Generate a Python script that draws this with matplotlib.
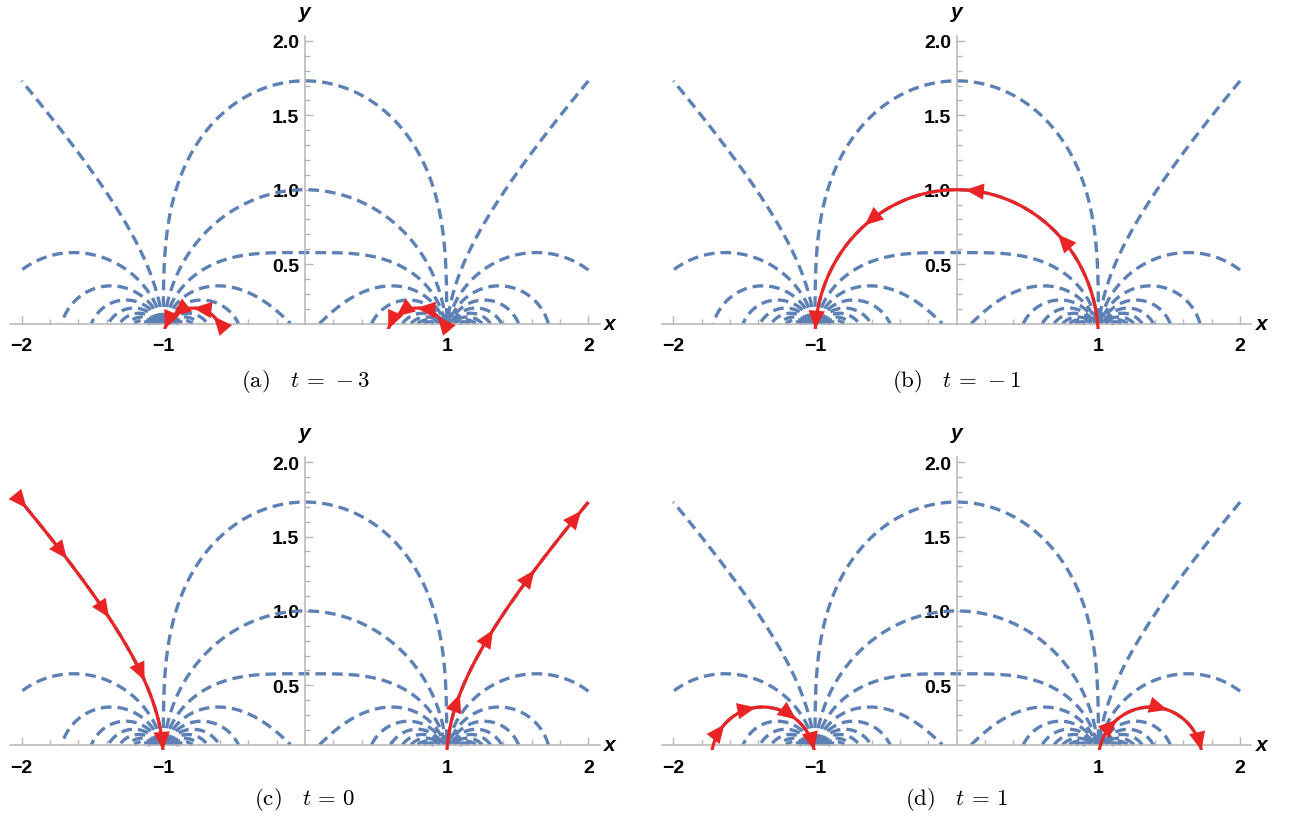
import numpy as np
import matplotlib.pyplot as plt

plt.rcParams['mathtext.fontset'] = 'cm'

W, H = 1289, 820

# contour levels of the dashed family  F(x, y) = Re(2 / (z^2 - 1)),  z = x + iy
levels = [-5.5, -5.0, -4.5, -4.0, -3.5, -3.0, -2.5, -2.0, -1.5, -1.0, -0.5,
          0.0, 0.5, 1.0, 1.5, 2.0, 2.5, 3.0, 3.5, 4.0, 4.5]

# the highlighted (red) level in each panel
t_values = [-3, -1, 0, 1]
panel_tags = ['(a)', '(b)', '(c)', '(d)']

# arrowheads on every visible red piece, as fraction of its length
arrow_frac = {
    -3: [[0.2, 0.5, 0.8, 1.0], [0.2, 0.5, 0.8, 1.0]],
    -1: [[0.24, 0.48, 0.73, 1.0]],
    0: [[0.2, 0.45, 0.7, 0.96], [0.0, 0.25, 0.5, 0.75, 1.0]],
    1: [[0.25, 0.62, 1.0], [0.2, 0.45, 0.75, 1.0]],
}

BLUE = '#5E81B5'
RED = '#EA2424'
AXIS_GREY = '#b5b5b5'

# pixel position of data (0, 0) for each panel, and pixels per unit
origins = [(305, 339.4), (956.7, 339.4), (305, 760.6), (956.7, 760.6)]
SX, SY = 141.7, 148.7
XLIM = (-2.08, 2.08)
YLIM = (0.062, 2.036)
Y_AXIS = 0.1

gx = np.linspace(-2, 2, 1201)
gy = np.linspace(0.1, 2.0, 571)
GX, GY = np.meshgrid(gx, gy)
GZ = GX + 1j * GY
F = np.real(2.0 / (GZ ** 2 - 1.0))


def red_pieces(t):
    s = np.sinh(np.linspace(-10, 10, 60000))
    z = np.sqrt(1 + 2.0 / (t + 1j * s))
    z = np.where(z.imag < 0, -z, z)
    x, y = z.real, z.imag
    keep = (y >= YLIM[0]) & (np.abs(x) <= 2.0)
    pieces = []
    idx = np.flatnonzero(keep)
    if len(idx) == 0:
        return pieces
    breaks = np.flatnonzero(np.diff(idx) > 1)
    starts = np.r_[0, breaks + 1]
    ends = np.r_[breaks, len(idx) - 1]
    for a, b in zip(starts, ends):
        sel = idx[a:b + 1]
        if len(sel) > 5:
            pieces.append((x[sel], y[sel]))
    return pieces


def add_arrow(ax, px, py, frac):
    d = np.hypot(np.diff(px) * SX, np.diff(py) * SY)
    cum = np.r_[0, np.cumsum(d)]
    L = cum[-1]
    target = max(frac * L, 8)
    i = int(np.searchsorted(cum, target))
    i = min(max(i, 1), len(px) - 1)
    j = int(np.searchsorted(cum, target - 6))
    j = min(j, i - 1)
    ax.annotate('', xy=(px[i], py[i]), xytext=(px[j], py[j]),
                arrowprops=dict(arrowstyle='-|>,head_length=0.95,head_width=0.42',
                                color=RED, lw=0, shrinkA=0, shrinkB=0,
                                mutation_scale=14),
                zorder=5, annotation_clip=False)


fig = plt.figure(figsize=(W / 100, H / 100), dpi=100)

for k, t in enumerate(t_values):
    x0, y0 = origins[k]
    left = x0 + XLIM[0] * SX
    right = x0 + XLIM[1] * SX
    top = y0 - YLIM[1] * SY
    bottom = y0 - YLIM[0] * SY
    ax = fig.add_axes([left / W, 1 - bottom / H, (right - left) / W, (bottom - top) / H])
    ax.set_xlim(*XLIM)
    ax.set_ylim(*YLIM)
    ax.set_axisbelow(True)

    # dashed family
    cs = ax.contour(GX, GY, F, levels=levels, colors=BLUE, linewidths=0)
    for segs in cs.allsegs:
        for seg in segs:
            ax.plot(seg[:, 0], seg[:, 1], color=BLUE, lw=2.4,
                    dashes=(3.2, 1.8), solid_capstyle='butt', zorder=2)
    cs.remove()

    # highlighted curve with arrows
    pieces = red_pieces(t)
    fr = arrow_frac[t]
    for n, (px, py) in enumerate(pieces):
        ax.plot(px, py, color=RED, lw=2.3, zorder=4, solid_capstyle='butt')
        for f in fr[min(n, len(fr) - 1)]:
            add_arrow(ax, px, py, f)

    # Mathematica-like axes
    for side in ['top', 'right']:
        ax.spines[side].set_visible(False)
    ax.spines['left'].set_position(('data', 0))
    ax.spines['bottom'].set_position(('data', Y_AXIS))
    ax.spines['left'].set_bounds(Y_AXIS, YLIM[1])
    for side in ['left', 'bottom']:
        ax.spines[side].set_color(AXIS_GREY)
        ax.spines[side].set_linewidth(1.1)

    ax.set_xticks([-2, -1, 1, 2])
    ax.set_xticklabels(['\u22122', '\u22121', '1', '2'])
    ax.set_xticks([v / 5 for v in range(-9, 10) if v % 5 != 0], minor=True)
    ax.set_yticks([0.5, 1.0, 1.5, 2.0])
    ax.set_yticklabels(['0.5', '1.0', '1.5', '2.0'])
    ax.set_yticks([v / 10 for v in range(2, 21) if v % 5 != 0], minor=True)
    ax.tick_params(which='both', direction='in', color=AXIS_GREY, width=1.0)
    ax.tick_params(which='major', length=6)
    ax.tick_params(which='minor', length=3.5)
    ax.tick_params(axis='x', which='major', pad=10, labelsize=14)
    ax.tick_params(axis='y', which='major', pad=4, labelsize=14)
    for lbl in ax.get_xticklabels() + ax.get_yticklabels():
        lbl.set_fontweight('bold')
        lbl.set_fontfamily('Liberation Sans')

    ax.text(2.15, Y_AXIS, 'x', fontsize=15, fontweight='bold', fontstyle='italic',
            family='Liberation Sans', ha='center', va='center', clip_on=False)
    ax.text(0.0, 2.2, 'y', fontsize=15, fontweight='bold', fontstyle='italic',
            family='Liberation Sans', ha='center', va='center', clip_on=False)

    cap_y = 382 if k < 2 else 800
    fig.text(x0 / W, 1 - cap_y / H,
             r'$\mathrm{' + panel_tags[k] + r'}\quad t\,=\,' + str(t) + '$',
             fontsize=16.5, ha='center', va='center')

fig.savefig('out.png', dpi=100)
